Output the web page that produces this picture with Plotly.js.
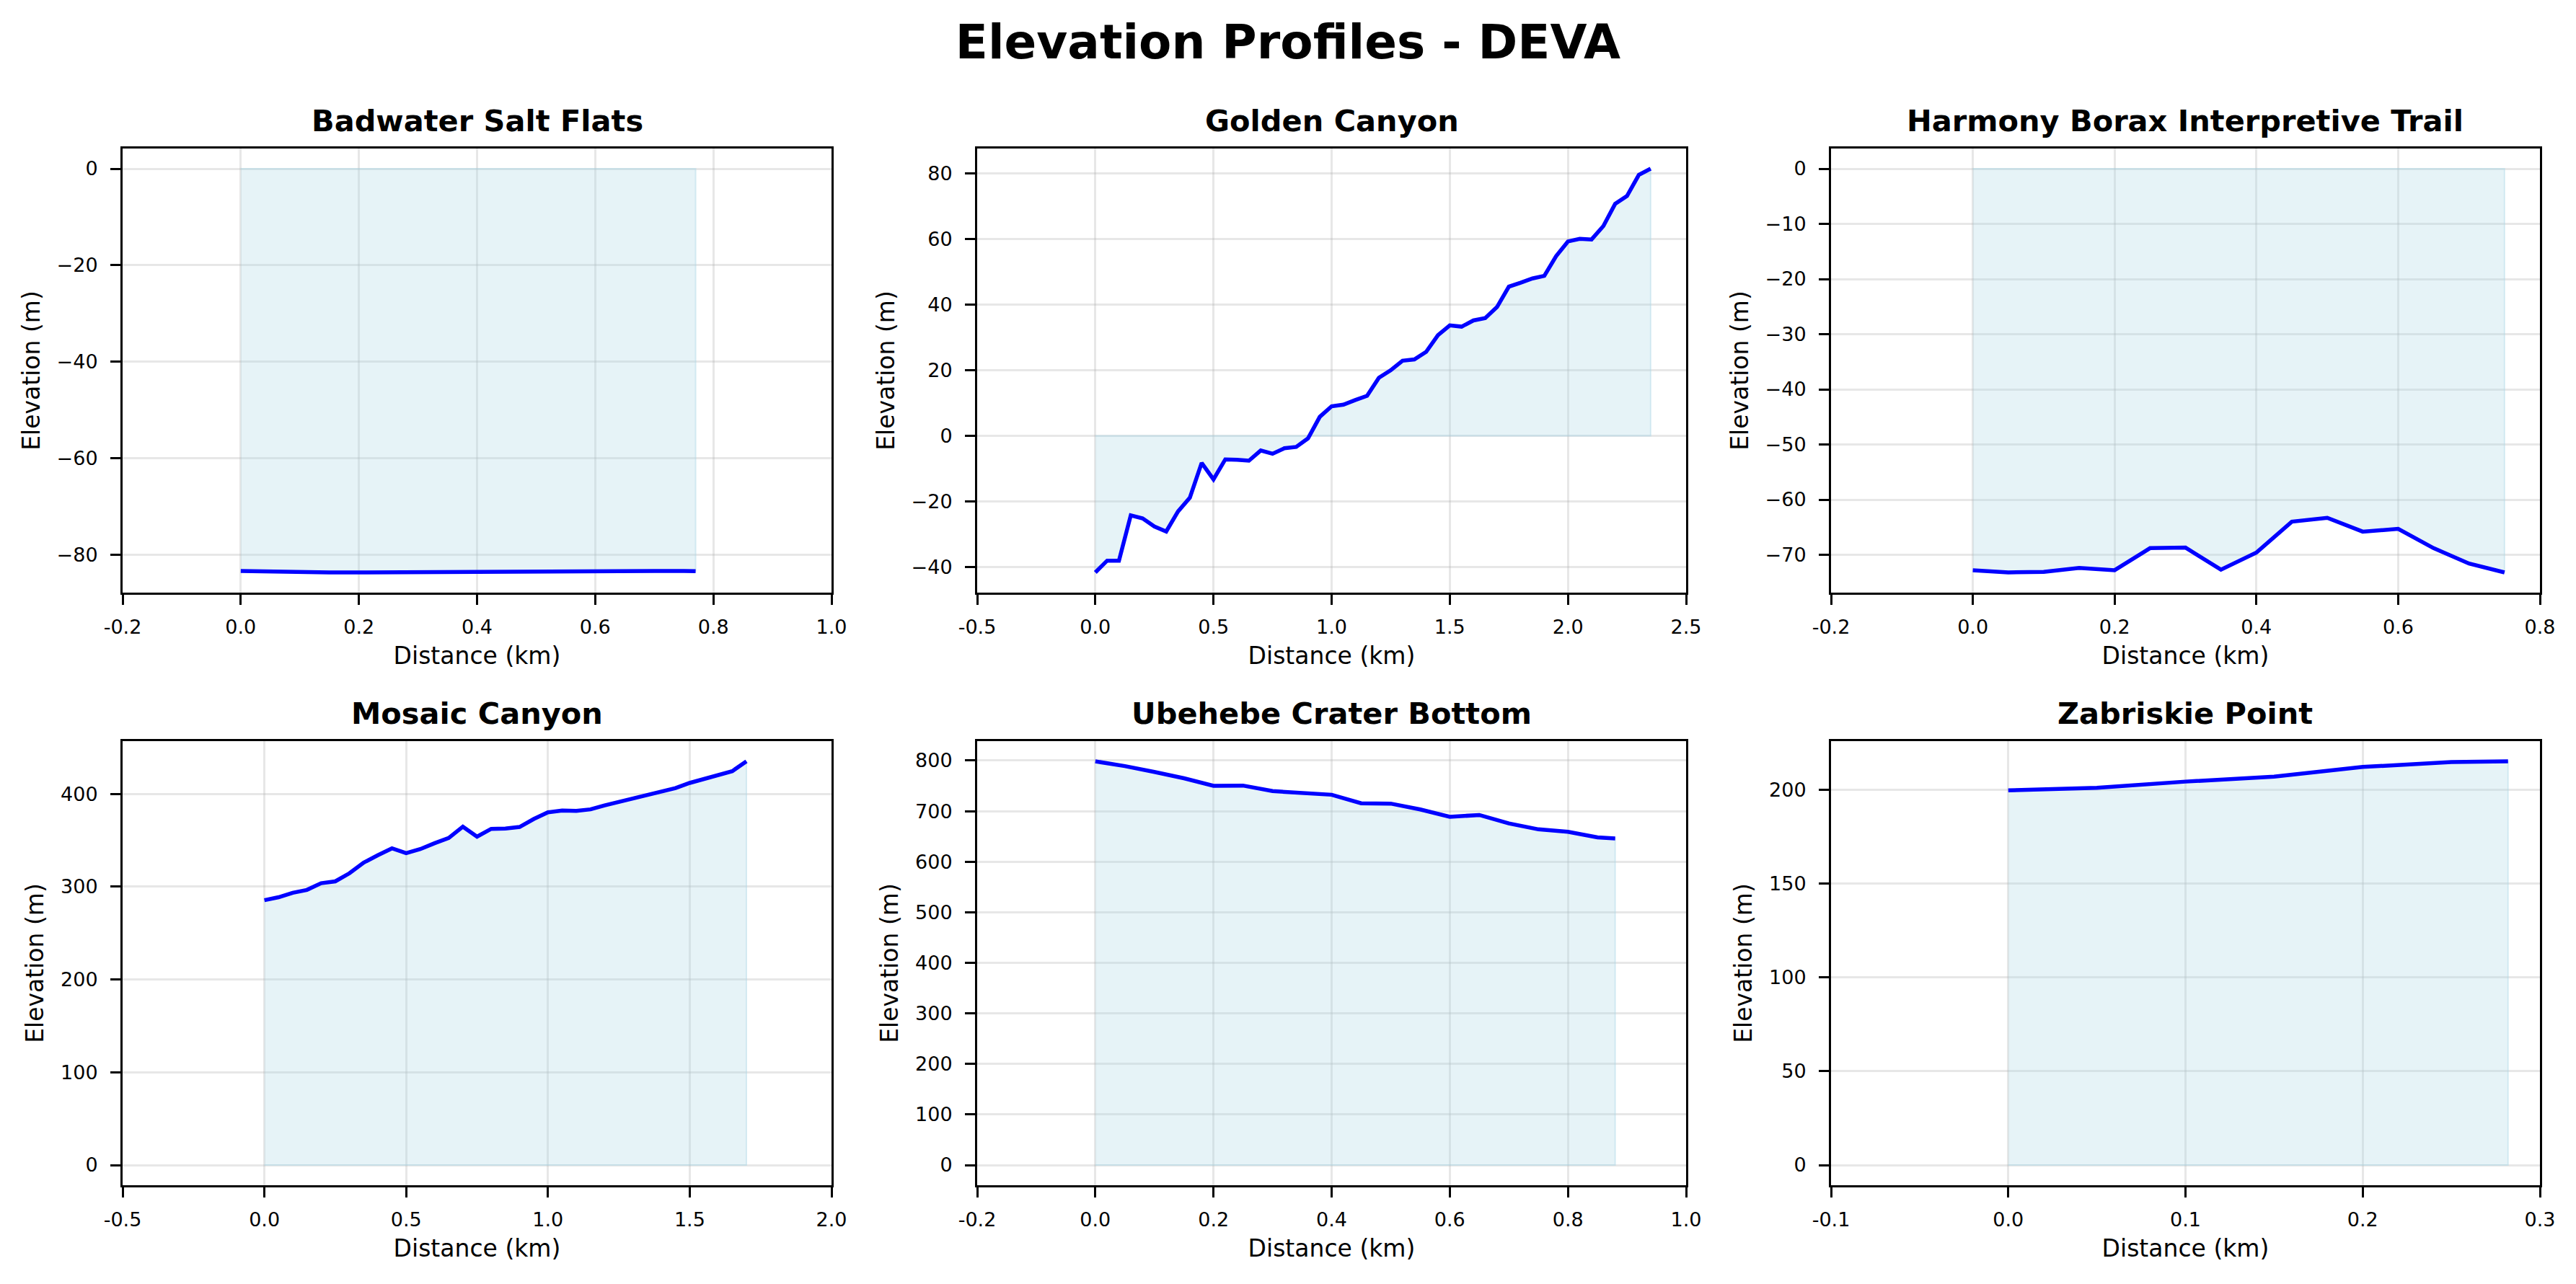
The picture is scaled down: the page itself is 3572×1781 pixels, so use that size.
<!DOCTYPE html>
<html>
<head>
<meta charset="utf-8">
<script src="https://cdn.plot.ly/plotly-3.0.1.min.js"></script>
<style>
html,body{margin:0;padding:0;background:#ffffff;}
#chart{width:3572px;height:1781px;}
</style>
</head>
<body>
<div id="chart"></div>
<script>
// ---------- DATA ----------
const chartTitle = 'Elevation Profiles - DEVA';
const xAxisLabel = 'Distance (km)';
const yAxisLabel = 'Elevation (m)';
const trailNames = ['Badwater Salt Flats', 'Golden Canyon', 'Harmony Borax Interpretive Trail',
                    'Mosaic Canyon', 'Ubehebe Crater Bottom', 'Zabriskie Point'];

const badwaterDist = [0, 0.05, 0.1, 0.15, 0.2, 0.25, 0.3, 0.35, 0.4, 0.45, 0.5, 0.55, 0.6, 0.65, 0.7, 0.75, 0.77];
const badwaterElev = [-83.3, -83.45, -83.6, -83.6, -83.6, -83.55, -83.55, -83.5, -83.5, -83.45, -83.4, -83.35, -83.3, -83.3, -83.3, -83.3, -83.35];

const goldenDist = [0, 0.05, 0.1, 0.15, 0.2, 0.25, 0.3, 0.35, 0.4, 0.45, 0.5, 0.55, 0.6, 0.65, 0.7, 0.75,
                    0.8, 0.85, 0.9, 0.95, 1.0, 1.05, 1.1, 1.15, 1.2, 1.25, 1.3, 1.35, 1.4, 1.45, 1.5, 1.55,
                    1.6, 1.65, 1.7, 1.75, 1.8, 1.85, 1.9, 1.95, 2.0, 2.05, 2.1, 2.15, 2.2, 2.25, 2.3, 2.35];
const goldenElev = [-41.7, -38.1, -38.1, -24.3, -25.2, -27.7, -29.2, -23.1, -18.9, -8.3, -13.3, -7.2, -7.3, -7.6, -4.5, -5.5,
                    -3.8, -3.4, -0.8, 5.8, 9.0, 9.5, 10.9, 12.2, 17.7, 20.0, 22.9, 23.3, 25.6, 30.7, 33.7, 33.3,
                    35.2, 35.9, 39.3, 45.5, 46.7, 48.0, 48.8, 54.8, 59.3, 60.1, 59.9, 64.0, 70.8, 73.2, 79.6, 81.5];

const harmonyDist = [0, 0.05, 0.1, 0.15, 0.2, 0.25, 0.3, 0.35, 0.4, 0.45, 0.5, 0.55, 0.6, 0.65, 0.7, 0.75];
const harmonyElev = [-72.8, -73.2, -73.1, -72.4, -72.8, -68.8, -68.7, -72.7, -69.6, -64.0, -63.3, -65.8, -65.3, -68.8, -71.6, -73.2];

const mosaicDist = [0, 0.05, 0.1, 0.15, 0.2, 0.25, 0.3, 0.35, 0.4, 0.45, 0.5, 0.55, 0.6, 0.65, 0.7, 0.75, 0.8, 0.85,
                    0.9, 0.95, 1.0, 1.05, 1.1, 1.15, 1.2, 1.25, 1.3, 1.35, 1.4, 1.45, 1.5, 1.55, 1.6, 1.65, 1.7];
const mosaicElev = [285.5, 288.7, 293.5, 296.6, 303.8, 305.8, 314.5, 326.0, 334.0, 341.4, 336.2, 340.6, 346.9, 352.5, 364.7, 354.0, 362.4, 362.8,
                    364.4, 373.0, 380.2, 382.2, 381.8, 383.4, 387.7, 391.3, 394.5, 398.8, 402.0, 406.3, 411.9, 415.8, 420.6, 424.6, 435.2];

const ubeheheDist = [0, 0.05, 0.1, 0.15, 0.2, 0.25, 0.3, 0.35, 0.4, 0.45, 0.5, 0.55, 0.6, 0.65, 0.7, 0.75, 0.8, 0.85, 0.88];
const ubeheheElev = [798.5, 789.0, 777.5, 765.0, 750.0, 750.5, 739.6, 735.3, 732.4, 715.6, 714.9, 703.3, 688.7, 692.4, 675.6, 664.0, 659.0, 648.0, 645.8];

const zabriskieDist = [0, 0.05, 0.1, 0.15, 0.2, 0.25, 0.282];
const zabriskieElev = [199.6, 201.0, 204.3, 206.9, 212.1, 214.7, 215.1];

// x tick values and labels (matplotlib-style hyphen labels)
const xTicks1 = [-0.2, 0.0, 0.2, 0.4, 0.6, 0.8, 1.0];
const xLabels1 = ['-0.2', '0.0', '0.2', '0.4', '0.6', '0.8', '1.0'];
const xTicks2 = [-0.5, 0.0, 0.5, 1.0, 1.5, 2.0, 2.5];
const xLabels2 = ['-0.5', '0.0', '0.5', '1.0', '1.5', '2.0', '2.5'];
const xTicks3 = [-0.2, 0.0, 0.2, 0.4, 0.6, 0.8];
const xLabels3 = ['-0.2', '0.0', '0.2', '0.4', '0.6', '0.8'];
const xTicks4 = [-0.5, 0.0, 0.5, 1.0, 1.5, 2.0];
const xLabels4 = ['-0.5', '0.0', '0.5', '1.0', '1.5', '2.0'];
const xTicks5 = [-0.2, 0.0, 0.2, 0.4, 0.6, 0.8, 1.0];
const xLabels5 = ['-0.2', '0.0', '0.2', '0.4', '0.6', '0.8', '1.0'];
const xTicks6 = [-0.1, 0.0, 0.1, 0.2, 0.3];
const xLabels6 = ['-0.1', '0.0', '0.1', '0.2', '0.3'];

// y tick spacing per panel
const yDticks = [20, 20, 10, 100, 100, 50];

// ---------- BUILD ----------
const panels = [
  {d: badwaterDist, e: badwaterElev, xt: xTicks1, xl: xLabels1},
  {d: goldenDist, e: goldenElev, xt: xTicks2, xl: xLabels2},
  {d: harmonyDist, e: harmonyElev, xt: xTicks3, xl: xLabels3},
  {d: mosaicDist, e: mosaicElev, xt: xTicks4, xl: xLabels4},
  {d: ubeheheDist, e: ubeheheElev, xt: xTicks5, xl: xLabels5},
  {d: zabriskieDist, e: zabriskieElev, xt: xTicks6, xl: xLabels6}
];

const W = 3572, H = 1781;
const colPx = [[170, 1153], [1355, 2338], [2539, 3522]];
const rowPx = [[206, 822], [1028, 1644]];

const FONT = 'DejaVu Sans, Verdana, sans-serif';
const traces = [];
const annotations = [];
const layout = {
  width: W, height: H,
  margin: {l: 0, r: 0, t: 0, b: 0, pad: 0},
  paper_bgcolor: '#ffffff', plot_bgcolor: '#ffffff',
  showlegend: false,
  font: {family: FONT, color: '#000000', size: 27},
  title: {
    text: chartTitle,
    font: {family: FONT, size: 66, weight: 'bold', color: '#000000'},
    x: 0.5, xanchor: 'center', xref: 'paper',
    y: 1 - 58 / H, yanchor: 'middle', yref: 'container'
  },
  annotations: annotations
};

panels.forEach((p, i) => {
  const n = i + 1;
  const suffix = n === 1 ? '' : String(n);
  const col = i % 3, row = Math.floor(i / 3);
  const xd = [colPx[col][0] / W, colPx[col][1] / W];
  const yd = [1 - rowPx[row][1] / H, 1 - rowPx[row][0] / H];

  // fill polygon between profile and zero
  const fx = p.d.concat(p.d.slice().reverse());
  const fy = p.e.concat(p.d.map(() => 0));
  traces.push({
    type: 'scatter', mode: 'lines', x: fx, y: fy,
    fill: 'toself', fillcolor: 'rgba(173,216,230,0.3)',
    line: {color: 'rgba(173,216,230,0.45)', width: 2},
    xaxis: 'x' + suffix, yaxis: 'y' + suffix, hoverinfo: 'skip'
  });
  traces.push({
    type: 'scatter', mode: 'lines', x: p.d, y: p.e,
    line: {color: '#0000ff', width: 5.5},
    xaxis: 'x' + suffix, yaxis: 'y' + suffix, name: trailNames[i]
  });

  const lo = Math.min(0, Math.min(...p.e));
  const hi = Math.max(0, Math.max(...p.e));
  const pad = (hi - lo) * 0.05;

  const common = {
    showline: true, mirror: true, linecolor: '#000000', linewidth: 3,
    ticks: 'outside', ticklen: 14, tickwidth: 3, tickcolor: '#000000',
    showgrid: true, gridcolor: 'rgba(176,176,176,0.3)', gridwidth: 3,
    zeroline: false,
    tickfont: {family: FONT, size: 27, color: '#000000'}
  };

  layout['xaxis' + suffix] = Object.assign({}, common, {
    domain: xd, anchor: 'y' + suffix,
    range: [p.xt[0], p.xt[p.xt.length - 1]],
    tickmode: 'array', tickvals: p.xt, ticktext: p.xl,
    ticklabelstandoff: 8,
    title: {text: xAxisLabel, font: {family: FONT, size: 33, color: '#000000'}, standoff: 14}
  });
  layout['yaxis' + suffix] = Object.assign({}, common, {
    domain: yd, anchor: 'x' + suffix,
    range: [lo - pad, hi + pad],
    tick0: 0, dtick: yDticks[i],
    ticklabelstandoff: 12,
    title: {text: yAxisLabel, font: {family: FONT, size: 33, color: '#000000'}, standoff: 14}
  });

  annotations.push({
    text: trailNames[i], showarrow: false,
    xref: 'paper', yref: 'paper',
    x: (xd[0] + xd[1]) / 2, xanchor: 'center',
    y: yd[1], yanchor: 'bottom', yshift: 12,
    font: {family: FONT, size: 41.5, weight: 'bold', color: '#000000'}
  });
});

Plotly.newPlot('chart', traces, layout, {staticPlot: true, displayModeBar: false});
</script>
</body>
</html>
